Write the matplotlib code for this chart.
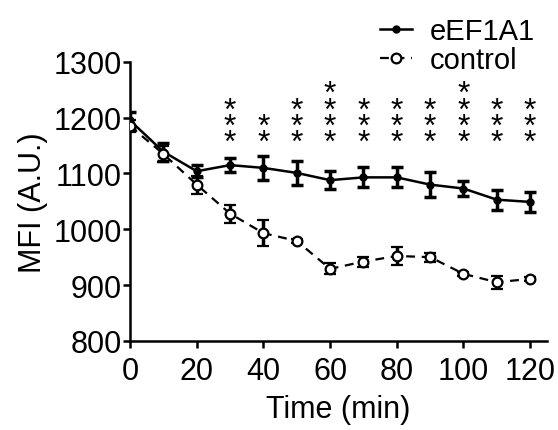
import matplotlib.pyplot as plt
import numpy as np

plt.rcParams['font.family'] = ['Liberation Sans', 'DejaVu Sans']

# data
time_min = [0, 10, 20, 30, 40, 50, 60, 70, 80, 90, 100, 110, 120]
eef1a1_mean = [1195, 1139, 1104, 1115, 1110, 1101, 1088, 1093, 1093, 1080, 1073, 1053, 1049]
eef1a1_err = [15, 16, 11, 12, 22, 21, 16, 18, 18, 23, 14, 18, 18]
control_mean = [1185, 1135, 1080, 1028, 993, 979, 929, 942, 952, 950, 920, 905, 911]
control_err = [10, 14, 16, 16, 23, 4, 10, 9, 16, 8, 4, 12, 3]

# number of significance stars at each time point
star_times = [30, 40, 50, 60, 70, 80, 90, 100, 110, 120]
star_counts = [3, 2, 3, 4, 3, 3, 3, 4, 3, 3]

fig = plt.figure(figsize=(5.58, 4.31), dpi=100)
ax = fig.add_axes([0.233, 0.207, 0.747, 0.647])

e1 = ax.errorbar(time_min, eef1a1_mean, yerr=eef1a1_err, color='black', linestyle='-',
                 linewidth=1.8, marker='o', markersize=5, markerfacecolor='black',
                 capsize=4, capthick=2.5, elinewidth=2.5, zorder=3)
e2 = ax.errorbar(time_min, control_mean, yerr=control_err, color='black', linestyle=(0, (4, 3)),
                 linewidth=1.6, marker='o', markersize=7, markerfacecolor='white',
                 markeredgewidth=1.6, capsize=4, capthick=2.5, elinewidth=2.5, zorder=4)

# significance stars, stacked
for t, n in zip(star_times, star_counts):
    ax.text(t, 1128, '\n'.join(['*'] * n), ha='center', va='bottom', fontsize=23,
            linespacing=0.40)

ax.set_xlim(0, 125)
ax.set_ylim(800, 1300)
ax.set_xticks(np.arange(0, 121, 20))
ax.set_yticks(np.arange(800, 1301, 100))

for s in ['top', 'right']:
    ax.spines[s].set_visible(False)
for s in ['left', 'bottom']:
    ax.spines[s].set_linewidth(1.8)
ax.tick_params(axis='y', labelsize=22, width=1.8, length=5, direction='out', pad=1)
ax.tick_params(axis='x', labelsize=22, width=1.8, length=5, direction='out', pad=6)

ax.set_xlabel('Time (min)', fontsize=22, labelpad=6)
ax.set_ylabel('MFI (A.U.)', fontsize=22, labelpad=4)

ax.legend([e1[0], e2[0]], ['eEF1A1', 'control'], loc='upper right',
          bbox_to_anchor=(0.995, 1.005), bbox_transform=fig.transFigure,
          frameon=False, fontsize=21, handlelength=1.1, handletextpad=0.6,
          labelspacing=0.02, borderaxespad=0.3)

plt.savefig('out.png', dpi=100)
